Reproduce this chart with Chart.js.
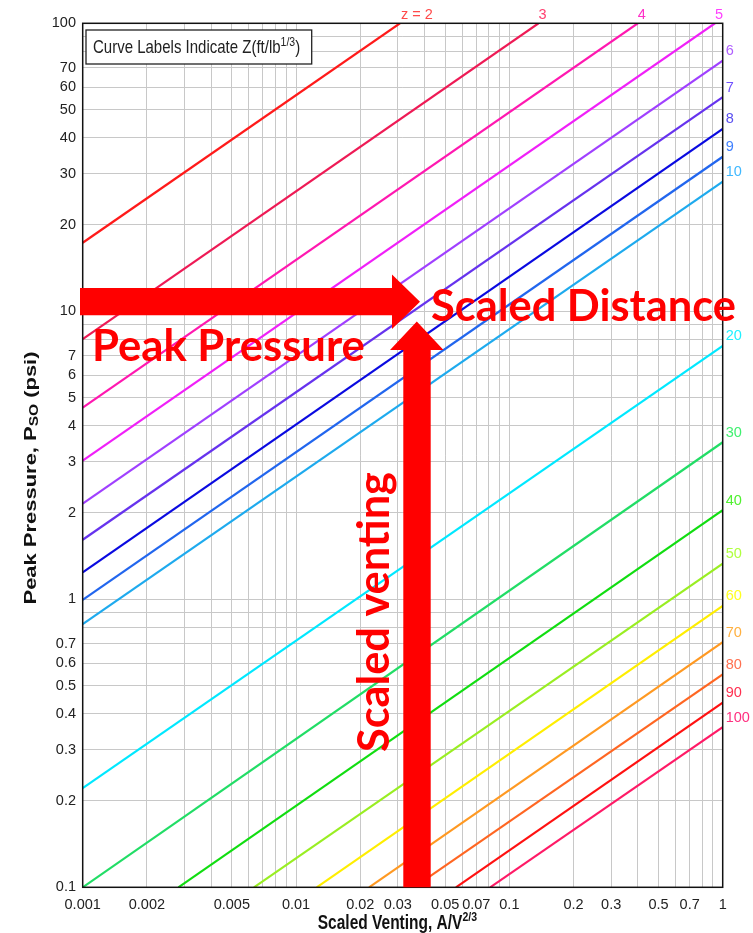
<!DOCTYPE html>
<html><head><meta charset="utf-8">
<script src="https://cdn.jsdelivr.net/npm/chart.js@4/dist/chart.umd.min.js"></script>
<style>html,body{margin:0;padding:0;background:#fff;}canvas{display:block;}</style>
</head><body>
<canvas id="c" width="753" height="933"></canvas>
<script>
// ---- data ----
const zValues   = [2, 3, 4, 5, 6, 7, 8, 9, 10, 20, 30, 40, 50, 60, 70, 80, 90, 100];
const startX    = [0.001, 0.001, 0.001, 0.001, 0.001, 0.001, 0.001, 0.001, 0.001, 0.001, 0.001, 0.00281, 0.00635, 0.0125, 0.022, 0.0357, 0.0562, 0.0813];
const startY    = [17.3, 8.0, 4.63, 3.03, 2.15, 1.61, 1.24, 0.995, 0.82, 0.221, 0.1, 0.1, 0.1, 0.1, 0.1, 0.1, 0.1, 0.1];
const endX      = [0.0307, 0.137, 0.40, 0.92, 1, 1, 1, 1, 1, 1, 1, 1, 1, 1, 1, 1, 1, 1];
const endY      = [100, 100, 100, 100, 74.2, 55.4, 43.0, 34.4, 28.2, 7.58, 3.51, 2.04, 1.33, 0.948, 0.71, 0.549, 0.438, 0.36];
const lineColors  = ['#ff1a1a','#ee1a55','#ff18b0','#f020f8','#a040ff','#6633ee','#0a0ae0','#2266ee','#1eaaee','#00e8ff','#22dd66','#11dd11','#99ee22','#ffee00','#ff9922','#ff6622','#ff1111','#ff1a66'];
const labelColors = ['#ff4a4a','#ff4070','#ff30c8','#ff40ff','#b060ff','#7050ff','#5a4ff0','#4080ff','#40b8ff','#20f0ff','#40f070','#50f030','#b0ff40','#ffff20','#ffb040','#ff7050','#ff3050','#ff3080'];
const xTickLabels = ['0.001','0.002','0.005','0.01','0.02','0.03','0.05','0.07','0.1','0.2','0.3','0.5','0.7','1'];
const yTickLabels = ['0.1','0.2','0.3','0.4','0.5','0.6','0.7','1','2','3','4','5','6','7','10','20','30','40','50','60','70','100'];
const xMin = 0.001, xMax = 1, yMin = 0.1, yMax = 100;

const TICK_FONT = "'Liberation Sans', Arial, sans-serif";
const fmt = v => String(+(+v).toPrecision(6));
function gridValues(min, max) {
  const out = [];
  for (let e = Math.round(Math.log10(min)); e < Math.round(Math.log10(max)); e++)
    for (let m = 1; m < 10; m++) out.push(+(m * Math.pow(10, e)).toPrecision(6));
  out.push(max);
  return out;
}

const datasets = zValues.map((z, i) => ({
  label: 'Z = ' + z,
  data: [{x: startX[i], y: startY[i]}, {x: endX[i], y: endY[i]}],
  borderColor: lineColors[i],
  borderWidth: 2.2,
  pointRadius: 0,
  tension: 0,
  fill: false
}));

function drawRich(ctx, parts, x, y, opts) {
  opts = opts || {};
  ctx.save();
  ctx.translate(x, y);
  if (opts.rotate) ctx.rotate(opts.rotate);
  ctx.scale(opts.sx || 1, opts.sy || 1);
  ctx.textBaseline = opts.baseline || 'alphabetic';
  ctx.textAlign = 'left';
  let w = 0;
  parts.forEach(p => { ctx.font = p.font; p.w = ctx.measureText(p.text).width; w += p.w; });
  let cx = opts.align === 'left' ? 0 : -w / 2;
  parts.forEach(p => {
    ctx.font = p.font;
    ctx.fillStyle = opts.color || '#111';
    ctx.fillText(p.text, cx, p.dy || 0);
    cx += p.w;
  });
  ctx.restore();
  return w;
}
function measureParts(ctx, parts) {
  let w = 0;
  parts.forEach(p => { ctx.font = p.font; w += ctx.measureText(p.text).width; });
  return w;
}
function fitSize(ctx, text, family, target) {
  ctx.font = 'bold 100px ' + family;
  return 100 * target / ctx.measureText(text).width;
}

const overlay = {
  id: 'overlay',
  afterDraw(chart) {
    const ctx = chart.ctx, a = chart.chartArea;
    const xs = chart.scales.x, ys = chart.scales.y;
    ctx.save();
    // plot border
    ctx.strokeStyle = '#111';
    ctx.lineWidth = 1.5;
    ctx.strokeRect(a.left, a.top, a.right - a.left, a.bottom - a.top);

    // legend note box
    ctx.fillStyle = '#fff';
    ctx.fillRect(86, 30, 225.7, 34);
    ctx.strokeStyle = '#222';
    ctx.lineWidth = 1.3;
    ctx.strokeRect(86, 30, 225.7, 34);
    drawRich(ctx, [
      {text: 'Curve Labels Indicate Z(ft/lb', font: '15px ' + TICK_FONT},
      {text: '1/3', font: '10.5px ' + TICK_FONT, dy: -6.5},
      {text: ')', font: '15px ' + TICK_FONT}
    ], 93, 53.3, {align: 'left', sy: 1.18, color: '#222'});

    // curve labels
    ctx.font = '14.5px ' + TICK_FONT;
    ctx.textBaseline = 'middle';
    zValues.forEach((z, i) => {
      ctx.fillStyle = labelColors[i];
      if (endY[i] >= yMax) {
        const px = xs.getPixelForValue(endX[i]);
        if (i === 0) { ctx.textAlign = 'left'; ctx.fillText('z = ' + z, px + 1, 15); }
        else { ctx.textAlign = 'center'; ctx.fillText(String(z), px + 4, 15); }
      } else {
        const py = ys.getPixelForValue(endY[i]);
        ctx.textAlign = 'left';
        ctx.fillText(String(z), a.right + 3, py - 9.5);
      }
    });

    // axis titles
    const yParts = [
      {text: 'Peak Pressure, P', font: 'bold 17px ' + TICK_FONT},
      {text: 'SO', font: 'bold 12px ' + TICK_FONT, dy: 4},
      {text: ' (psi)', font: 'bold 17px ' + TICK_FONT}
    ];
    const yw = measureParts(ctx, yParts);
    drawRich(ctx, yParts, 31, 478, {rotate: -Math.PI / 2, sx: 253 / yw, baseline: 'middle', color: '#111'});
    drawRich(ctx, [
      {text: 'Scaled Venting, A/V', font: 'bold 15.5px ' + TICK_FONT},
      {text: '2/3', font: 'bold 10.5px ' + TICK_FONT, dy: -6.5}
    ], 397.4, 929, {sy: 1.25, color: '#111'});

    // red arrows
    ctx.fillStyle = '#ff0000';
    ctx.beginPath();
    ctx.moveTo(80, 288); ctx.lineTo(392, 288); ctx.lineTo(392, 274.5);
    ctx.lineTo(420, 301.7); ctx.lineTo(392, 329); ctx.lineTo(392, 315.3); ctx.lineTo(80, 315.3);
    ctx.closePath(); ctx.fill();
    ctx.beginPath();
    ctx.moveTo(403.3, a.bottom); ctx.lineTo(403.3, 350); ctx.lineTo(390, 350);
    ctx.lineTo(416.8, 321.5); ctx.lineTo(443.5, 350); ctx.lineTo(430.7, 350); ctx.lineTo(430.7, a.bottom);
    ctx.closePath(); ctx.fill();

    // red text
    const fam = "Lato, 'Open Sans', sans-serif";
    ctx.textAlign = 'left';
    ctx.textBaseline = 'alphabetic';
    let s = fitSize(ctx, 'Peak Pressure', fam, 273);
    ctx.font = 'bold ' + s + 'px ' + fam;
    ctx.fillText('Peak Pressure', 92, 360.5);
    s = fitSize(ctx, 'Scaled Distance', fam, 305);
    ctx.font = 'bold ' + s + 'px ' + fam;
    ctx.fillText('Scaled Distance', 431, 320.5);
    s = fitSize(ctx, 'Scaled venting', fam, 280);
    ctx.save();
    ctx.translate(389, 752);
    ctx.rotate(-Math.PI / 2);
    ctx.font = 'bold ' + s + 'px ' + fam;
    ctx.fillText('Scaled venting', 0, 0);
    ctx.restore();
    ctx.restore();
  }
};

const tickFont = {family: TICK_FONT, size: 14.5};
new Chart(document.getElementById('c'), {
  type: 'line',
  data: {datasets},
  options: {
    responsive: false,
    animation: false,
    devicePixelRatio: 1,
    layout: {padding: {left: 0, right: 30.3, top: 23.3, bottom: 0}},
    plugins: {legend: {display: false}, tooltip: {enabled: false}},
    scales: {
      x: {
        type: 'logarithmic', min: xMin, max: xMax,
        afterBuildTicks: s => { s.ticks = gridValues(xMin, xMax).map(v => ({value: v})); },
        afterFit: s => { s.height = 45.7; },
        ticks: {autoSkip: false, maxRotation: 0, minRotation: 0, padding: 9, color: '#222', font: tickFont,
          callback: v => xTickLabels.includes(fmt(v)) ? fmt(v) : ''},
        grid: {color: '#c8c8c8', lineWidth: 1, drawTicks: false},
        border: {display: false}
      },
      y: {
        type: 'logarithmic', min: yMin, max: yMax, position: 'left',
        afterBuildTicks: s => { s.ticks = gridValues(yMin, yMax).map(v => ({value: v})); },
        afterFit: s => { s.width = 82.7; },
        ticks: {autoSkip: false, padding: 6.7, color: '#222', font: tickFont,
          callback: v => yTickLabels.includes(fmt(v)) ? fmt(v) : ''},
        grid: {color: '#c8c8c8', lineWidth: 1, drawTicks: false},
        border: {display: false}
      }
    }
  },
  plugins: [overlay]
});
</script></body></html>
